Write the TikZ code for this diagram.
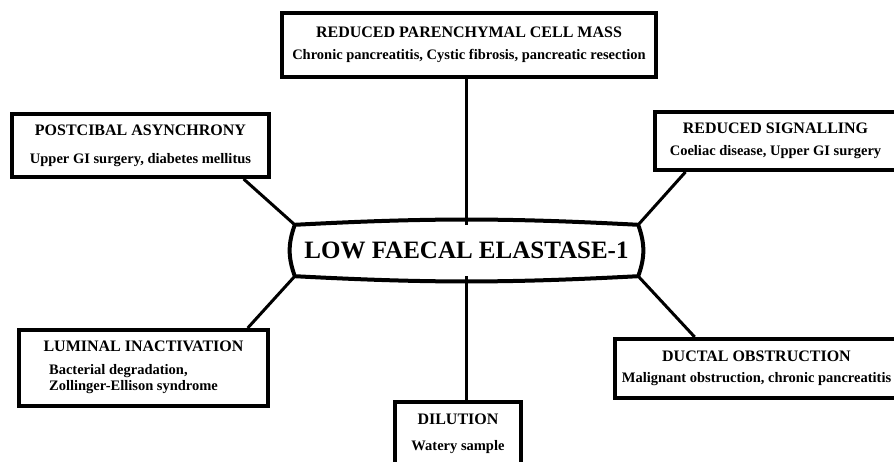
\documentclass[tikz,border=0pt]{standalone}
\usepackage{fontspec}
\setmainfont{Liberation Serif}

\newcommand{\causehead}[1]{{\bfseries\fontsize{16}{19}\selectfont #1}}

\tikzset{
  cause/.style={draw, line width=4pt, align=center, inner sep=0pt,
    font=\bfseries\fontsize{14.5}{17}\selectfont},
  link/.style={line width=3pt},
}

\begin{document}
\begin{tikzpicture}[x=1pt,y=1pt]
        \useasboundingbox (0,0) rectangle (894,461);

        % central finding
        \node[inner sep=0pt, minimum width=343, minimum height=51,
          font=\bfseries\fontsize{25}{30}\selectfont] (centre) at (466.5,210.5) {LOW FAECAL ELASTASE-1};
        \draw[line width=4pt, line join=round]
          (centre.north west) to[out=3, in=177] (centre.north east)
          to[out=-70, in=70] (centre.south east)
          to[out=183, in=-3] (centre.south west)
          to[out=110, in=-110] (centre.north west);

        % the six causes
        \node[cause, minimum width=374, minimum height=64] (parench) at (469,416)
          {\causehead{REDUCED PARENCHYMAL CELL MASS}\\[5pt]
           Chronic pancreatitis, Cystic fibrosis, pancreatic resection};
        \node[cause, minimum width=257, minimum height=63] (postcibal) at (140.5,315.5)
          {\causehead{POSTCIBAL ASYNCHRONY}\\[11pt]
           Upper GI surgery, diabetes mellitus};
        \node[cause, minimum width=241, minimum height=58] (signal) at (775.5,320)
          {\causehead{REDUCED SIGNALLING}\\[5pt]
           Coeliac disease, Upper GI surgery};
        \node[cause, minimum width=249, minimum height=76] (luminal) at (143.5,93)
          {\causehead{LUMINAL INACTIVATION}\\[10pt]
           \hspace*{-20pt}\begin{tabular}{@{}l@{}}Bacterial degradation,\\[-1pt] Zollinger-Ellison syndrome\end{tabular}};
        \node[cause, minimum width=283, minimum height=59] (ductal) at (756.5,92.5)
          {\causehead{DUCTAL OBSTRUCTION}\\[4pt]
           Malignant obstruction, chronic pancreatitis};
        \node[cause, minimum width=126, minimum height=64] (dilution) at (458,27)
          {\causehead{DILUTION}\\[9pt]
           Watery sample};

        % spokes
        \draw[link] (centre.north) -- (centre.north |- parench.south);
        \draw[link] (centre.south) -- (centre.south |- dilution.north);
        \draw[link] (centre.north west) -- (postcibal.-18);
        \draw[link] (centre.north east) -- (signal.199);
        \draw[link] (centre.south west) -- (luminal.21);
        \draw[link] (centre.south east) -- (ductal.153);
\end{tikzpicture}
\end{document}
